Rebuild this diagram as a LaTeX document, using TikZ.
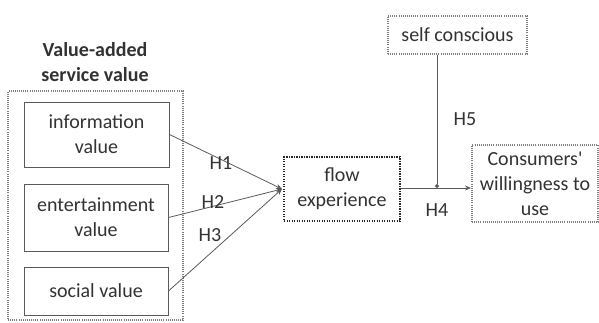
\documentclass[tikz,border=0pt]{standalone}
\usepackage{fontspec}
\setmainfont{Carlito}
\usetikzlibrary{arrows.meta}
\definecolor{txt}{RGB}{50,50,50}
\definecolor{ln}{RGB}{90,90,90}
\begin{document}
\begin{tikzpicture}[x=1pt,y=-1pt,
  every node/.style={font=\fontsize{20}{25}\selectfont, text=txt, align=center, inner sep=0pt},
  solidbox/.style={draw=ln, line width=1pt},
  dotbox/.style={draw=gray, line width=2pt, dash pattern=on 1pt off 1.1pt},
  darkdot/.style={draw=black!85, line width=2pt, dash pattern=on 1.2pt off 1.3pt},
  conn/.style={draw=ln, line width=0.8pt},
  tip/.style={-{Stealth[length=6pt,width=5pt]}}]
\useasboundingbox (0,0) rectangle (599,322);
\node (title) at (95,62) {\bfseries Value-added\\\bfseries service value};
\node[dotbox, minimum width=175pt, minimum height=229pt] (outer) at (95.5,205.5) {};
\node[solidbox, minimum width=145pt, minimum height=65pt] (info) at (96.5,134.5) {information\\value};
\node[solidbox, minimum width=144pt, minimum height=67pt] (ent) at (96,217.5) {entertainment\\value};
\node[solidbox, minimum width=144pt, minimum height=48pt] (soc) at (96,291) {social value};
\node[darkdot, minimum width=116pt, minimum height=64pt] (flow) at (342,189) {flow\\experience};
\node[dotbox, minimum width=139pt, minimum height=38pt] (self) at (457.5,35) {self conscious};
\node[dotbox, minimum width=126pt, minimum height=77pt] (cons) at (535,183.5) {Consumers\textquotesingle\\willingness to\\use};
\coordinate (j) at (282,189);
\coordinate (k) at (437,188);
\draw[conn, tip] (info.east) -- (j);
\draw[conn, tip] (ent.east) -- (j);
\draw[conn, tip] (soc.east) -- (j);
\draw[conn, tip] (flow.east |- k) -- (cons.west |- k);
\draw[conn, -{Circle[length=4pt]}] (self.south -| k) -- (k);
\node (h1) at (221,163) {H1};
\node (h2) at (213,202) {H2};
\node (h3) at (210,235) {H3};
\node (h4) at (437,210) {H4};
\node (h5) at (465,119) {H5};
\end{tikzpicture}
\end{document}
